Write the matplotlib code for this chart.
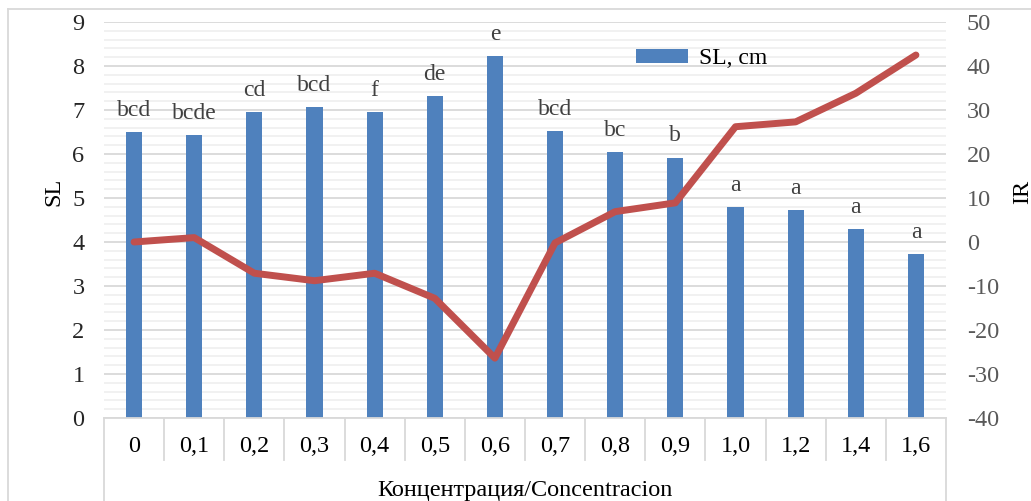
import numpy as np
import matplotlib
matplotlib.use('Agg')
import matplotlib.pyplot as plt
from matplotlib.lines import Line2D

# data
conc = ['0', '0,1', '0,2', '0,3', '0,4', '0,5', '0,6', '0,7', '0,8', '0,9', '1,0', '1,2', '1,4', '1,6']
sl = [6.49, 6.43, 6.95, 7.06, 6.95, 7.32, 8.23, 6.52, 6.05, 5.92, 4.80, 4.73, 4.30, 3.73]
ir = [0.0, 1.0, -7.1, -8.8, -7.1, -12.8, -26.4, -0.2, 6.9, 8.9, 26.2, 27.3, 33.8, 42.5]
letters = ['bcd', 'bcde', 'cd', 'bcd', 'f', 'de', 'e', 'bcd', 'bc', 'b', 'a', 'a', 'a', 'a']

plt.rcParams['font.family'] = ['Liberation Serif', 'DejaVu Serif']
plt.rcParams['axes.unicode_minus'] = False

fs = 17.5
W, H = 1031, 501
fig = plt.figure(figsize=(W / 100, H / 100), dpi=100)
ax = fig.add_axes([104 / W, 83 / H, 842 / W, 396 / H])

x = np.arange(len(conc))
ax.set_xlim(-0.5, len(conc) - 0.5)
ax.set_ylim(0, 9)
ax.set_yticks(range(10))
ax.set_yticks(np.arange(0, 9.01, 0.2), minor=True)
ax.grid(axis='y', which='major', color='#d9d9d9', lw=1.3)
ax.grid(axis='y', which='minor', color='#f0f0f0', lw=1.3)
ax.set_axisbelow(True)

# bars (SL)
ax.bar(x, sl, width=0.27, color='#4f81bd', label='SL, cm', zorder=2)
for xi, v, l in zip(x, sl, letters):
    ax.annotate(l, (xi, v), xytext=(0, 8), textcoords='offset points',
                ha='center', va='bottom', fontsize=17, color='#404040')

for s in ['top', 'left', 'right']:
    ax.spines[s].set_visible(False)
ax.spines['bottom'].set_color('#d9d9d9')
ax.spines['bottom'].set_linewidth(1.3)

ax.set_xticks(x)
ax.set_xticklabels(conc, fontsize=fs, color='#000000')
ax.tick_params(axis='x', length=0, pad=13)
ax.tick_params(axis='y', which='both', length=0, pad=14, labelsize=fs, labelcolor='#262626')

# category separators under the axis
trans = ax.get_xaxis_transform()
for i in range(len(conc) + 1):
    b = i - 0.5
    low = -0.21 if i in (0, len(conc)) else -0.106
    ax.plot([b, b], [0, low], transform=trans, clip_on=False, color='#d9d9d9', lw=1.3)

ax.set_xlabel('Концентрация/Concentracion', fontsize=fs, color='#000000')
ax.xaxis.set_label_coords(0.5, -0.156)
ax.set_ylabel('SL', fontsize=fs, color='#000000')
ax.yaxis.set_label_coords(-0.0465, 0.57)

# line (IR) on secondary axis
ax2 = ax.twinx()
ax2.plot(x, ir, color='#c0504d', lw=5, solid_capstyle='round', solid_joinstyle='round', zorder=3)
ax2.set_ylim(-40, 50)
ax2.set_yticks(range(-40, 51, 10))
ax2.tick_params(axis='y', length=0, pad=15, labelsize=fs, labelcolor='#595959')
for s in ax2.spines.values():
    s.set_visible(False)
ax2.set_ylabel('IR', fontsize=fs, color='#000000')
ax2.yaxis.set_label_coords(1.078, 0.57)

ax.legend(loc='center left', bbox_to_anchor=(0.632, 0.907), frameon=False, fontsize=17,
          borderpad=0, borderaxespad=0, handlelength=2.2, handleheight=0.5,
          handletextpad=0.47)

# outer chart border
fig.add_artist(Line2D([8 / W, 1], [1 - 9 / H, 1 - 9 / H], color='#d9d9d9', lw=1.3))
fig.add_artist(Line2D([8 / W, 8 / W], [0, 1 - 9 / H], color='#d9d9d9', lw=1.3))

fig.savefig('out.png', dpi=100)
